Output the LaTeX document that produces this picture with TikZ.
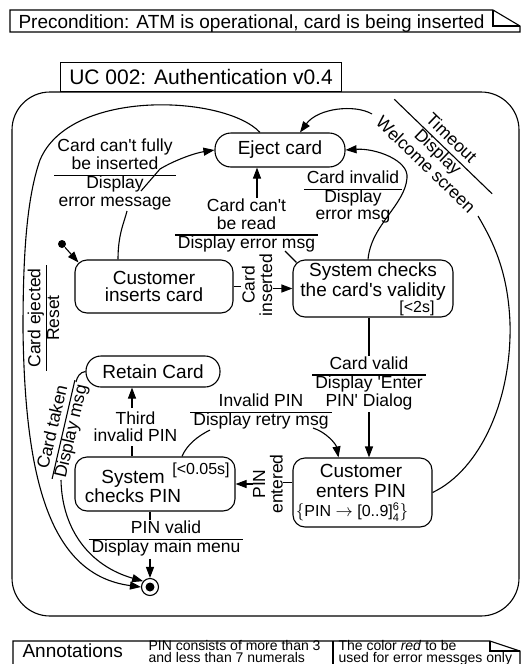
\documentclass[tikz,border=0pt]{standalone}
\usepackage{fontspec}
\setmainfont{Liberation Sans}
\usetikzlibrary{arrows.meta}
\newcommand\tlab[2]{\begin{tabular}{@{\hspace{3pt}}c@{\hspace{3pt}}}#1\\\hline #2\end{tabular}}
\newcommand\ap{\textquotesingle}
\setlength\arrayrulewidth{1.1pt}
\newcommand\stfont{\fontsize{19}{18}\selectfont}
\newcommand\lbfont{\fontsize{17.5}{17.5}\selectfont}
\newcommand\smfont{\fontsize{16}{16}\selectfont}
\newcommand\anfont{\fontsize{14}{12}\selectfont}
\begin{document}
\begin{tikzpicture}[x=1pt,y=-1pt, line width=1.1pt,
  state/.style={draw, rounded corners=12pt, inner sep=0pt, font=\stfont, align=center},
  lbl/.style={inner sep=0pt, font=\lbfont, align=center},
  ann/.style={anchor=base west, inner sep=0, font=\anfont},
  arr/.style={-{Triangle[length=11pt,width=8pt]}}]
\useasboundingbox (0,0) rectangle (525,664);
\clip (0,0) rectangle (525,664);

% precondition note
\draw (10,10) -- (493,10) -- (520,26) -- (520,32) -- (10,32) -- cycle;
\draw (493,10) -- (493,26) -- (520,26);
\node[anchor=base west, inner sep=0, font=\stfont] (pre) at (18,28) {Precondition: ATM is operational, card is being inserted};

% frame and tab
\node[draw, rounded corners=38pt, minimum width=507pt, minimum height=524pt, inner sep=0] (frame) at (265.5,354) {};
\node[draw, fill=white, minimum width=281pt, minimum height=29pt, inner sep=0, font=\fontsize{21}{21}\selectfont, anchor=south west] (uc) at (60,92) {UC 002: Authentication v0.4};

% states
\node[state, rounded corners=16pt, minimum width=130pt, minimum height=34pt] (ej) at (280,150) {Eject card};
\node[state, font=\fontsize{19}{17}\selectfont, minimum width=158pt, minimum height=53pt] (ci) at (154,286.5) {Customer\\inserts card};
\node[state, minimum width=160pt, minimum height=57pt] (sc) at (373,288.5) {};
\node[lbl, font=\fontsize{19}{20}\selectfont] (sct) at (373,282) {System checks\\the card\ap s validity};
\node[inner sep=0, font=\smfont] (sct2) at (417,308) {[<2s]};
\node[state, rounded corners=15pt, minimum width=134pt, minimum height=31pt] (rc) at (153,371.5) {Retain Card};
\node[state, minimum width=160pt, minimum height=54pt] (scp) at (155,484) {};
\node[lbl, font=\fontsize{19}{19}\selectfont] (scpt) at (133,486.5) {System\\checks PIN};
\node[inner sep=0, font=\smfont] (scpt2) at (201,470) {[<0.05s]};
\node[state, minimum width=139pt, minimum height=69pt] (cep) at (362.5,492.5) {};
\node[lbl, font=\fontsize{19}{20}\selectfont] (cept) at (361,481) {Customer\\enters PIN};
\node[inner sep=0, font=\smfont] (cept2) at (352,512) {$\{$PIN $\rightarrow$ [0..9]$^{\mbox{\fontsize{11}{11}\selectfont 6}}_{\mbox{\fontsize{11}{11}\selectfont 4}}\}$};

\node[circle, fill, inner sep=0, minimum size=8pt] (init) at (62,244) {};
\node[circle, draw, inner sep=0, minimum size=17pt] (fin) at (150,587) {};
\node[circle, fill, inner sep=0, minimum size=9pt] (finc) at (fin.center) {};

% transition labels
\node[lbl] (l1) at (115,175.5) {\tlab{Card can\ap t fully\\be inserted}{Display\\error message}};
\node[lbl] (l2) at (246.5,226) {\tlab{Card can\ap t\\be read}{Display error msg}};
\node[lbl] (l3) at (353,198) {\tlab{Card invalid}{Display\\error msg}};
\node[lbl, rotate=-44] (l4) at (437,153) {\tlab{Timeout}{Display\\Welcome screen}};
\node[lbl] (l5) at (369,384) {\tlab{Card valid}{Display \ap Enter\\PIN\ap\ Dialog}};
\node[lbl, rotate=90] (l6) at (257,285) {Card\\inserted};
\node[lbl, rotate=90] (l7) at (268,484) {PIN\\entered};
\node[lbl] (l8) at (261,412.5) {\tlab{Invalid PIN}{Display retry msg}};
\node[lbl] (l9) at (135.5,426.5) {Third\\invalid PIN};
\node[lbl] (l10) at (166,539.5) {\tlab{PIN valid}{Display main menu}};
\node[lbl, rotate=77] (l11) at (63.5,429.5) {\tlab{Card taken}{Display msg}};
\node[lbl, rotate=90] (l12) at (46,318) {\tlab{Card ejected}{Reset}};

% connectors
\draw[arr] (init) -- ([shift={(4,3)}]ci.north west);

\coordinate (c1a) at (127,211);
\coordinate (c1b) at (141,191);
\coordinate (c1c) at (160,169);
\draw ([xshift=-36pt]ci.north) .. controls +(0,-25) and +(-3,12) .. (c1a);
\draw[arr] (c1b) -- (c1c) .. controls (175,160) and (195,153) .. (ej.west);

\coordinate (c2a) at (285,251);
\coordinate (c2b) at (257,198);
\draw ([shift={(4,3)}]sc.north west) -- (c2a);
\draw[arr] (c2b) -- (c2b |- ej.south);

\draw[arr] ([xshift=-5pt]sc.north) .. controls (371,225) and (405,205) .. (407,178) .. controls (409,160) and (375,148) .. (ej.east);

\coordinate (c4a) at (478,216);
\coordinate (c4b) at (372,114);
\draw (cep.east) .. controls (480,470) and (512,400) .. (510,323) .. controls (508,270) and (492,240) .. (c4a);
\draw[arr] (c4b) .. controls (355,104) and (318,108) .. ([xshift=20pt]ej.north);

\draw (sc.south -| l5.north) -- (l5.north);
\draw[arr] (l5.south) -- (l5.south |- cep.north);

\draw (ci.east) -- (ci.east -| l6.north);
\draw[arr] (l6.south |- sc.west) -- (sc.west);

\draw ([yshift=10pt]cep.west) -- ([yshift=10pt]cep.west -| l7.south);
\draw[arr] (l7.north |- scp.east) -- (scp.east);

\coordinate (c8a) at (210,430);
\coordinate (c8b) at (313,428);
\draw ([xshift=27pt]scp.north) .. controls +(5,-12) and +(-12,6) .. (c8a);
\draw[arr] (c8b) .. controls (326,432) and (336,444) .. ([xshift=-24pt]cep.north);

\coordinate (c9) at (132,408);
\draw ([xshift=-23pt]scp.north) -- ++(0,-10);
\draw[arr] (c9) -- (c9 |- rc.south);

\draw (scp.south -| fin.north) -- (l10.north -| fin.north);
\draw[arr] (l10.south -| fin.north) -- (fin.north);

\coordinate (c11a) at (76,382);
\coordinate (c11b) at (61,480);
\draw (rc.west) .. controls (80,372) and (77,377) .. (c11a);
\draw[arr] (c11b) .. controls (62,530) and (90,566) .. (fin.140);

\draw[arr] ([xshift=-20pt]ej.north) .. controls (225,95) and (70,88) .. (40,160) .. controls (26,200) and (23,260) .. (23,330) .. controls (25,480) and (50,575) .. (fin.west);

% annotations
\draw (13,641) -- (490,641) -- (520,651) -- (520,670) -- (13,670) -- cycle;
\draw (490,641) -- (490,651) -- (520,651);
\draw (333,641) -- (333,670);
\node[anchor=base west, inner sep=0, font=\stfont] (ann) at (22,657) {Annotations};
\node[ann] (an1a) at (148,650.5) {PIN consists of more than 3};
\node[ann] (an1b) at (148,662.5) {and less than 7 numerals};
\node[ann] (an2a) at (338,650.5) {The color \textit{red} to be};
\node[ann] (an2b) at (338,662.5) {used for error messges only};
\end{tikzpicture}
\end{document}
